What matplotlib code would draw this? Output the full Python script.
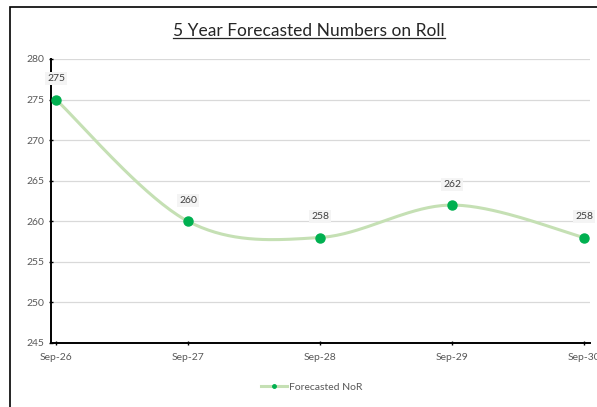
import numpy as np
import matplotlib.pyplot as plt
from matplotlib.patches import Rectangle
from matplotlib.lines import Line2D

# data
months = ["Sep-26", "Sep-27", "Sep-28", "Sep-29", "Sep-30"]
nor = [275, 260, 258, 262, 258]
y_ticks = [245, 250, 255, 260, 265, 270, 275, 280]

plt.rcParams['font.family'] = ['Lato', 'DejaVu Sans']

fig = plt.figure(figsize=(5.97, 4.07), dpi=100)
ax = fig.add_axes([51/597, 1-343/407, (590-51)/597, (343-59)/407])

# outer chart border (cropped at right/bottom like the screenshot)
fig.patches.append(Rectangle((10/597, -0.1), 1.2, 1 - 7/407 + 0.1,
                             transform=fig.transFigure, fill=False,
                             edgecolor='black', linewidth=1.2))

# smoothed line (Catmull-Rom style, like Excel's smoothed line)
x = np.arange(len(nor), dtype=float)
y = np.array(nor, dtype=float)
px = np.concatenate([[x[0]], x, [x[-1]]])
py = np.concatenate([[y[0]], y, [y[-1]]])
xs, ys = [], []
for i in range(1, len(px) - 2):
    t = np.linspace(0, 1, 40)
    p0, p1, p2, p3 = [np.array([px[j], py[j]]) for j in range(i-1, i+3)]
    c1 = p1 + (p2 - p0) / 6
    c2 = p2 - (p3 - p1) / 6
    pts = ((1-t)**3)[:, None]*p1 + (3*(1-t)**2*t)[:, None]*c1 \
        + (3*(1-t)*t**2)[:, None]*c2 + (t**3)[:, None]*p2
    xs.extend(pts[:, 0]); ys.extend(pts[:, 1])
ax.plot(xs, ys, color='#c5e0b4', linewidth=2.2, zorder=3)
ax.plot(x, y, linestyle='none', marker='o', markersize=6.5,
        color='#00b050', zorder=4)

for xi, yi in zip(x, nor):
    ax.annotate(str(yi), (xi, yi), xytext=(0, 15), textcoords='offset points',
                ha='center', va='center', fontsize=7.5, color='#404040',
                bbox=dict(boxstyle='square,pad=0.2', fc='#f4f4f4', ec='none'),
                zorder=5, annotation_clip=False)

ax.set_xlim(-5/132, 4 + 6/132)
ax.set_ylim(245, 280)
ax.set_yticks(y_ticks)
ax.set_xticks(x)
ax.set_xticklabels(months)
ax.tick_params(axis='both', labelsize=7.5, colors='#595959', length=3,
               direction='inout', width=1)
ax.tick_params(axis='both', color='black')
ax.grid(axis='y', color='#d9d9d9', linewidth=0.9)
ax.set_axisbelow(True)
for s in ['top', 'right']:
    ax.spines[s].set_visible(False)
for s in ['left', 'bottom']:
    ax.spines[s].set_linewidth(1.4)
ax.tick_params(axis='x', pad=6)

# title with underline
title = fig.text(309/597, 1-31/407, "5 Year Forecasted Numbers on Roll",
                 ha='center', va='center', fontsize=12.5, color='#262626')
fig.canvas.draw()
bb = title.get_window_extent().transformed(fig.transFigure.inverted())
fig.add_artist(Line2D([bb.x0, bb.x1], [bb.y0 + 0.002, bb.y0 + 0.002],
                      transform=fig.transFigure, color='#262626', linewidth=0.9))

# legend
handle = Line2D([], [], color='#c5e0b4', linewidth=2.2, marker='o',
                markersize=2.5, markerfacecolor='#00b050', markeredgecolor='#00b050')
fig.legend([handle], ["Forecasted NoR"], loc='center',
           bbox_to_anchor=(312/597, 1-387/407), frameon=False, fontsize=7.5,
           labelcolor='#595959', handlelength=2.5, handletextpad=0.2)

fig.savefig("out.png", dpi=100)
